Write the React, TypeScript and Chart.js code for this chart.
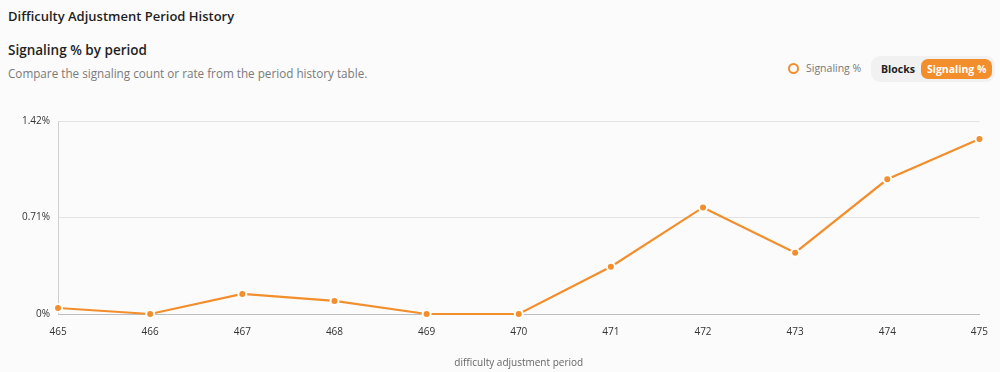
import React, { useEffect, useRef } from "react";
import { Chart, registerables } from "chart.js";

Chart.register(...registerables);

const periods = ["465", "466", "467", "468", "469", "470", "471", "472", "473", "474", "475"];
const signalingPct = [0.044, 0, 0.148, 0.096, 0, 0, 0.348, 0.784, 0.451, 0.991, 1.287];
const yTickValues = [0, 0.71, 1.42];
const yTickLabels = ["0%", "0.71%", "1.42%"];

const ORANGE = "#f28e2b";
const FONT = "'Open Sans', 'Noto Sans', sans-serif";

export default function App() {
  const ref = useRef<HTMLCanvasElement | null>(null);

  useEffect(() => {
    const prevMargin = document.body.style.margin;
    document.body.style.margin = "0";
    const ctx = ref.current!.getContext("2d")!;
    const chart = new Chart(ctx, {
      type: "line",
      data: {
        labels: periods,
        datasets: [
          {
            label: "Signaling %",
            data: signalingPct,
            borderColor: ORANGE,
            backgroundColor: ORANGE,
            borderWidth: 2.2,
            pointRadius: 4,
            pointBorderWidth: 2,
            pointBorderColor: "#ffffff",
            pointBackgroundColor: ORANGE,
            tension: 0,
            clip: false,
          } as any,
        ],
      },
      options: {
        animation: false,
        responsive: false,
        maintainAspectRatio: false,
        layout: { padding: { top: 21, right: 20, left: 14, bottom: 3 } },
        plugins: {
          legend: { display: false },
          tooltip: { enabled: false },
        },
        scales: {
          x: {
            offset: false,
            grid: { display: false, drawTicks: false },
            border: { display: true, color: "#bdbdbd" },
            ticks: { color: "#333", font: { family: FONT, size: 10 }, padding: 12, maxRotation: 0 },
            title: {
              display: true,
              text: "difficulty adjustment period",
              color: "#666",
              font: { family: FONT, size: 10 },
              padding: { top: 7, bottom: 0 },
            },
          },
          y: {
            min: 0,
            max: 1.42,
            afterBuildTicks: (axis: any) => {
              axis.ticks = yTickValues.map((v) => ({ value: v }));
            },
            grid: { color: "#e3e3e3", drawTicks: false },
            border: { display: true, color: "#cfcfcf" },
            ticks: {
              color: "#333",
              font: { family: FONT, size: 10 },
              padding: 8,
              callback: (v: any) => {
                const i = yTickValues.indexOf(Number(v));
                return i >= 0 ? yTickLabels[i] : "";
              },
            },
          },
        },
      },
    });
    return () => {
      chart.destroy();
      document.body.style.margin = prevMargin;
    };
  }, []);

  return (
    <div
      style={{
        position: "relative",
        width: 1000,
        height: 372,
        background: "#fbfbfb",
        fontFamily: FONT,
        overflow: "hidden",
      }}
    >
      <div style={{ position: "absolute", left: 8, top: 7, fontSize: 13, fontWeight: 600, color: "#1f1f1f", whiteSpace: "nowrap" }}>
        Difficulty Adjustment Period History
      </div>
      <div style={{ position: "absolute", left: 8, top: 41, fontSize: 13.5, fontWeight: 600, color: "#1f1f1f", whiteSpace: "nowrap" }}>
        Signaling % by period
      </div>
      <div style={{ position: "absolute", left: 8, top: 65, fontSize: 11.7, color: "#7a7a7a", whiteSpace: "nowrap" }}>
        Compare the signaling count or rate from the period history table.
      </div>
      <div
        style={{
          position: "absolute",
          left: 788,
          top: 61,
          display: "flex",
          alignItems: "center",
          fontSize: 10.5,
          color: "#777",
          whiteSpace: "nowrap",
        }}
      >
        <span
          style={{
            display: "inline-block",
            width: 7,
            height: 7,
            borderRadius: "50%",
            border: `2px solid ${ORANGE}`,
            marginRight: 7,
          }}
        />
        Signaling %
      </div>
      <div
        style={{
          position: "absolute",
          left: 871,
          top: 56,
          width: 124,
          height: 26,
          borderRadius: 9,
          background: "#f1f1f1",
          display: "flex",
          alignItems: "center",
          fontSize: 10.5,
          fontWeight: 700,
          whiteSpace: "nowrap",
        }}
      >
        <span style={{ marginLeft: 10, color: "#222" }}>Blocks</span>
        <span
          style={{
            marginLeft: 6,
            background: ORANGE,
            color: "#fff",
            borderRadius: 7,
            padding: "3px 6px",
          }}
        >
          Signaling %
        </span>
      </div>
      <canvas ref={ref} width={1000} height={272} style={{ position: "absolute", left: 0, top: 100 }} />
    </div>
  );
}
